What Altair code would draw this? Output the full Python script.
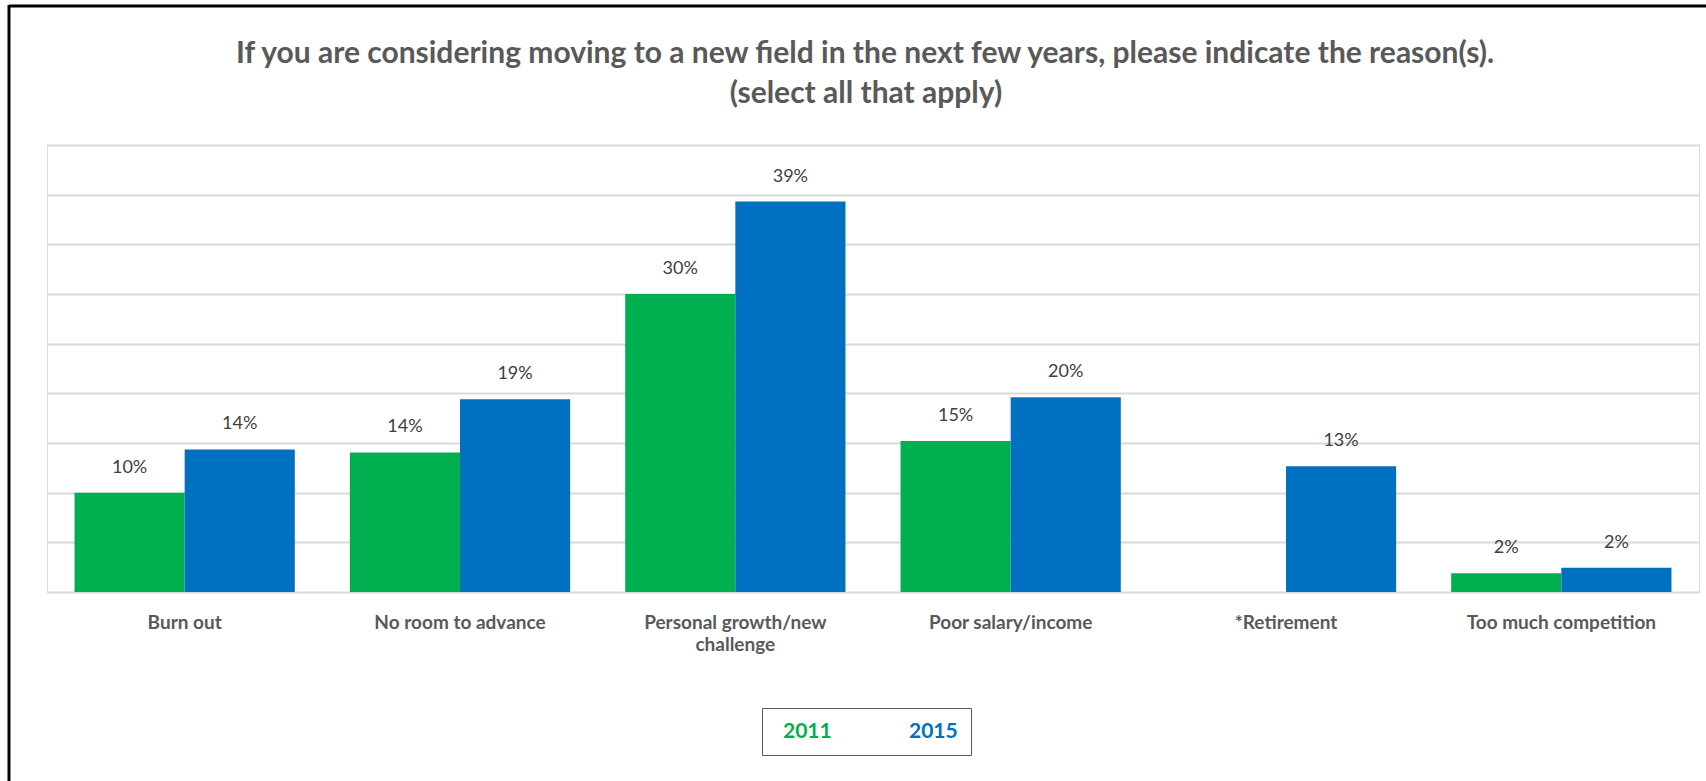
import altair as alt
import pandas as pd

categories = ["Burn out", "No room to advance", "Personal growth/new challenge",
              "Poor salary/income", "*Retirement", "Too much competition"]
values_2011 = [10.0, 14.05, 30.0, 15.2, None, 1.9]
values_2015 = [14.35, 19.4, 39.3, 19.6, 12.65, 2.45]
years = ["2011", "2015"]
colors = ["#00B050", "#0070C0"]
title_line1 = "If you are considering moving to a new field in the next few years, please indicate the reason(s)."
title_line2 = "(select all that apply)"

rows = []
for cat, a, b in zip(categories, values_2011, values_2015):
    for yr, v in zip(years, [a, b]):
        if v is not None:
            rows.append({"category": cat, "year": yr, "value": v, "label": f"{round(v)}%"})
df = pd.DataFrame(rows)

FONT = "Lato"
W, H = 1652, 447

x_enc = alt.X("category:N", sort=categories,
              scale=alt.Scale(paddingInner=0.2, paddingOuter=0.1),
              axis=alt.Axis(title=None, labelAngle=0, ticks=False, domain=False,
                            labelFont=FONT, labelFontWeight="bold", labelFontSize=19,
                            labelColor="#595959", labelPadding=21, labelLimit=0,
                            labelLineHeight=22,
                            labelExpr="datum.label == 'Personal growth/new challenge' ? ['Personal growth/new', 'challenge'] : datum.label"))
xoff = alt.XOffset("year:N", sort=years, scale=alt.Scale(paddingInner=0, paddingOuter=0))
y_enc = alt.Y("value:Q", scale=alt.Scale(domain=[0, 45], nice=False),
              axis=alt.Axis(title=None, labels=False, ticks=False, domain=False,
                            values=list(range(0, 50, 5)), grid=True,
                            gridColor="#D9D9D9", gridWidth=2))
color_enc = alt.Color("year:N", sort=years,
                      scale=alt.Scale(domain=years, range=colors),
                      legend=alt.Legend(title=None, orient="none", direction="horizontal",
                                        legendX=715, legendY=563,
                                        symbolSize=0, symbolOpacity=0, symbolStrokeWidth=0,
                                        labelFont=FONT, labelFontWeight="bold", labelFontSize=21,
                                        labelColor=alt.ExprRef("datum.label == '2011' ? '#00B050' : '#0070C0'"),
                                        labelOffset=alt.ExprRef("-13"), columnPadding=69, padding=13,
                                        strokeColor="#595959"))

bars = alt.Chart(df).mark_bar().encode(x=x_enc, xOffset=xoff, y=y_enc, color=color_enc)

texts = alt.Chart(df).mark_text(font=FONT, fontSize=18, color="#404040",
                                baseline="middle", dy=-25).encode(
    x=alt.X("category:N", sort=categories), xOffset=alt.XOffset("year:N", sort=years),
    y="value:Q", text="label:N")

title_style = dict(font=FONT, fontSize=30, fontWeight="bold", color="#595959",
                   align="center", baseline="middle")
title1 = alt.Chart(alt.Data(values=[{"t": title_line1}])).mark_text(**title_style).encode(
    x=alt.value(W / 2 - 8), y=alt.value(-91), text="t:N")
title2 = alt.Chart(alt.Data(values=[{"t": title_line2}])).mark_text(**title_style).encode(
    x=alt.value(W / 2 - 7), y=alt.value(-51), text="t:N")

frame_top = alt.Chart(alt.Data(values=[{}])).mark_rule(color="black", strokeWidth=3).encode(
    x=alt.value(-38), x2=alt.value(1700), y=alt.value(-139))
frame_left = alt.Chart(alt.Data(values=[{}])).mark_rule(color="black", strokeWidth=3).encode(
    x=alt.value(-38), y=alt.value(-140), y2=alt.value(700))

chart = alt.layer(bars, texts, title1, title2, frame_top, frame_left).properties(
    width=W, height=H,
    autosize=alt.AutoSizeParams(type="none"),
    padding={"left": 47, "top": 145, "right": 7, "bottom": 189},
).configure_view(stroke=None).configure(background="white")

chart.save("out.html", embed_options={"renderer": "svg", "actions": False})
